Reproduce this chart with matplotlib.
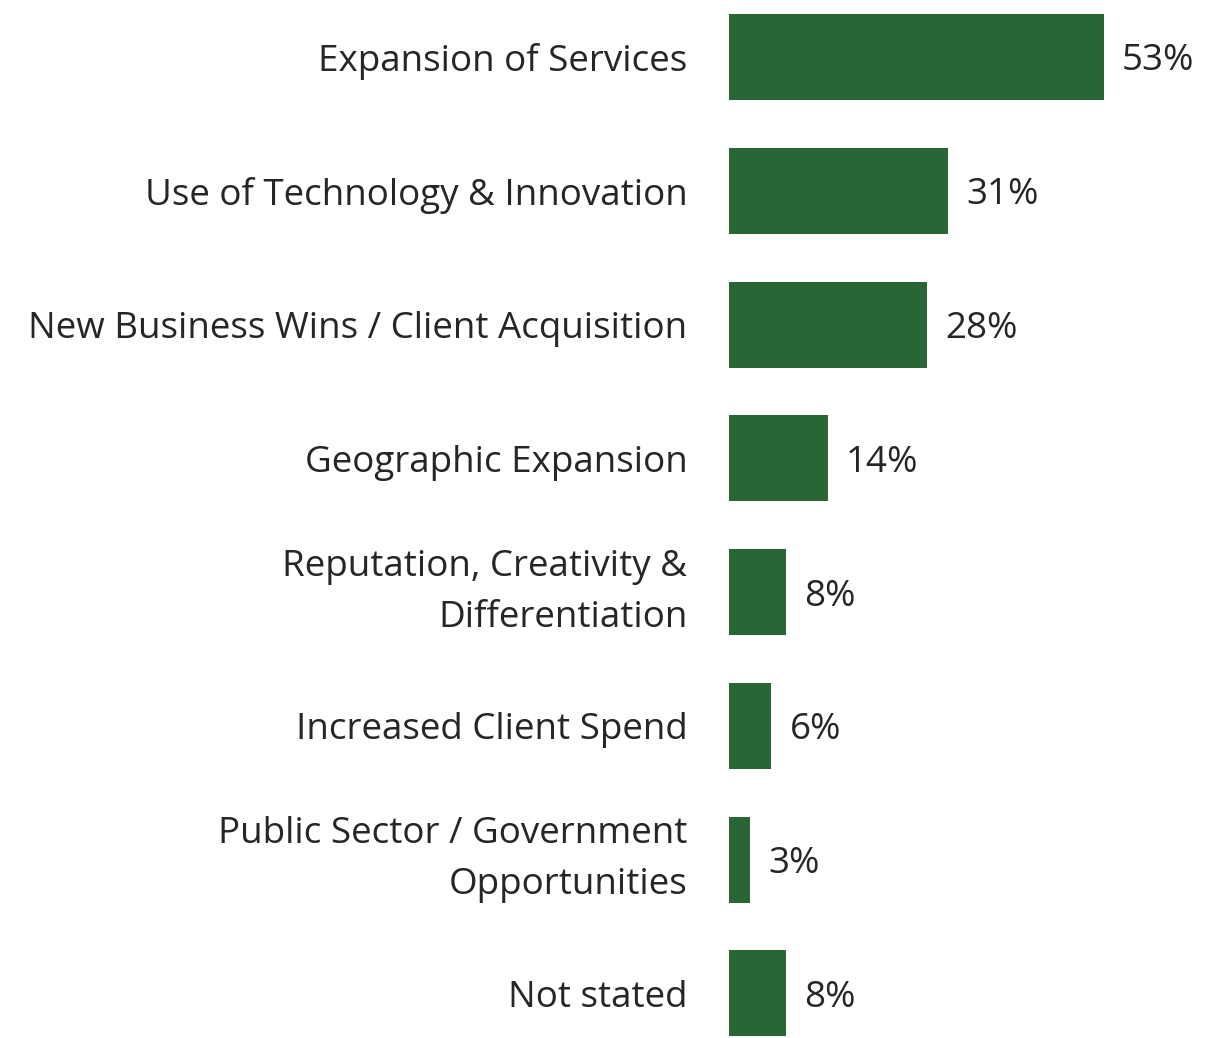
import matplotlib
matplotlib.use("Agg")
import matplotlib.pyplot as plt

categories = [
    "Expansion of Services",
    "Use of Technology & Innovation",
    "New Business Wins / Client Acquisition",
    "Geographic Expansion",
    "Reputation, Creativity &\nDifferentiation",
    "Increased Client Spend",
    "Public Sector / Government\nOpportunities",
    "Not stated",
]
values = [53, 31, 28, 14, 8, 6, 3, 8]

BAR_COLOR = "#2A6535"
TEXT_COLOR = "#262626"

plt.rcParams["font.family"] = ["Open Sans", "DejaVu Sans"]

W, H = 1211, 1038
fig = plt.figure(figsize=(W / 100, H / 100), dpi=100)
ax = fig.add_axes([729 / W, 0, (W - 729) / W, 1])

ypos = list(range(len(categories)))
ax.barh(ypos, values, height=0.643, color=BAR_COLOR)
ax.set_xlim(0, (W - 729) / 7.075)
ax.set_ylim(7.333, -0.426)

ax.set_yticks(ypos)
ax.set_yticklabels(categories, fontsize=26.5, color=TEXT_COLOR, linespacing=1.55)
for lbl in ax.get_yticklabels():
    if "\n" in lbl.get_text():
        lbl.set_verticalalignment("center")
ax.tick_params(axis="y", length=0, pad=30)
ax.set_xticks([])
for s in ax.spines.values():
    s.set_visible(False)

for y, v in zip(ypos, values):
    ax.annotate(f"{v}%", xy=(v, y), xytext=(13, 0), textcoords="offset points",
                va="center_baseline", ha="left", fontsize=26.5, color=TEXT_COLOR)

fig.savefig("out.png", dpi=100)
